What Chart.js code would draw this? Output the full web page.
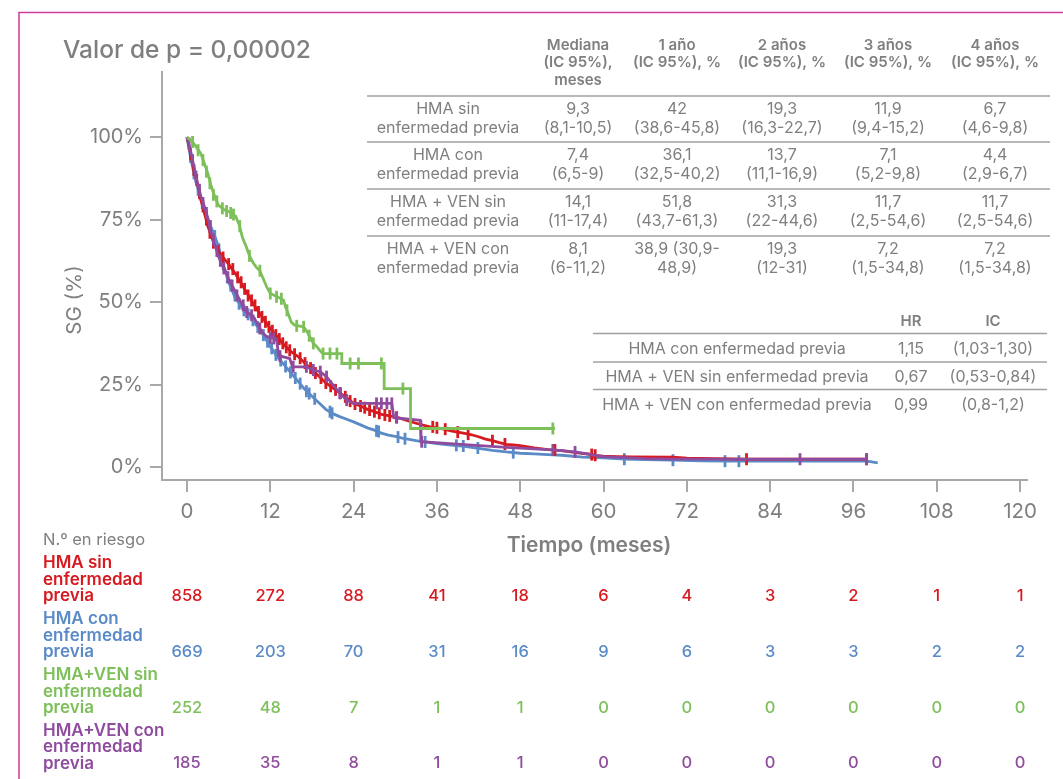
<!DOCTYPE html>
<html><head><meta charset="utf-8">
<script src="https://cdn.jsdelivr.net/npm/chart.js@4"></script>
<style>html,body{margin:0;padding:0;background:#fff}#wrap{position:relative;width:1063px;height:779px}</style>
</head><body><div id="wrap"><canvas id="c" width="1063" height="779"></canvas></div>
<script>
// ---------------- DATA ----------------
const xTicks = [0,12,24,36,48,60,72,84,96,108,120];
const yTicks = [0,25,50,75,100];

// Kaplan-Meier curves [month, survival %]
const curveHMAsin = [[0,100],[0.5,95],[1,90],[1.5,86],[2,81],[2.5,77],[3,73],[3.5,70],[4,67],[5,64],[6,61.5],[7,58.5],[8,55],[9,51.5],[10,48],[11,45],[12,42],[13,39.5],[14,37],[15,35],[16,33.5],[17,31.5],[18,29.5],[19,27.5],[20,25.5],[21,24],[22,22.5],[23,21],[24,19.3],[25,18.5],[26,17.5],[27,16.8],[28,16],[29,15.6],[30,15.2],[31,14.6],[32,13.9],[33,13.3],[34,12.7],[35,12.2],[36,11.9],[37,11.5],[38,11],[39,10.6],[40,10.2],[41,9.8],[42,9.2],[43,8.5],[44,8],[45,7.4],[46,6.9],[47,6.7],[48,6.5],[50,5.8],[52,5.3],[54,5],[56,4.4],[58,3.9],[59,3.5],[60,3.3],[62,3.2],[64,3.1],[70,3],[72,2.7],[76,2.6],[80,2.4],[90,2.4],[98,2.4]];
const curveHMAcon = [[0,100],[0.5,94],[1,89],[1.5,85],[2,81],[2.5,78],[3,75],[3.5,72.5],[4,70],[4.5,67],[5,63],[5.5,59.5],[6,56],[6.5,53.5],[7,51],[7.4,50],[8,48],[9,46],[10,43],[11,40],[12,36.5],[13,33.5],[14,31],[15,28.5],[16,26],[17,23.5],[18,21.5],[19,19.5],[20,17.5],[21,16.2],[22,15.3],[23,14.5],[24,13.7],[25,12.8],[26,11.9],[27,11.2],[28,10.3],[29,9.7],[30,9.3],[31,8.8],[32,8.4],[33,8],[34,7.7],[36,7.1],[38,6.7],[40,6.3],[42,5.7],[44,5.1],[46,4.6],[48,4.2],[50,4],[52,3.8],[54,3.6],[57,3],[60,2.8],[63,2.4],[66,2.3],[70,2.1],[74,1.9],[78,1.8],[90,1.8],[98,1.8],[99.5,1.3]];
const curveVENsin = [[0,100],[0.5,99],[1,98],[1.5,96.5],[2,95],[2.5,92],[3,89],[3.5,85],[4,82],[4.5,79.5],[5,78.5],[5.5,77.8],[6,77.4],[6.5,76.8],[7,76],[7.5,73.5],[8,69.5],[8.5,67],[9,64],[9.5,62],[10,60.5],[10.5,59.5],[11,57],[11.5,54.5],[12,52.6],[13,51.6],[13.9,50.6],[14.2,48.5],[14.5,47],[15,44],[15.5,43],[16.8,42.5],[17.3,41],[17.7,39.5],[18.2,37.5],[18.7,36.5],[19.2,35.2],[19.6,34.4],[22.3,34.4],[22.3,31.4],[28.4,31.4],[28.4,23.8],[32.2,23.8],[32.2,11.7],[53,11.7]];
const curveVENcon = [[0,100],[0.5,96],[1,91],[1.5,86],[2,82],[2.5,79],[3,75.5],[3.5,71],[4,67.5],[4.5,64],[5,61.5],[5.5,59.5],[6,57],[7,53],[8,49],[8.6,47],[9.6,45.5],[10.5,42],[11,40.5],[11.5,39.5],[12.9,38.9],[13.2,33.8],[14.8,32.9],[15.2,30.4],[17.2,30.4],[18.2,29.4],[19.2,28.9],[20.1,27.4],[21,25],[22,22.4],[23,20.3],[24,19.3],[29.5,19.3],[29.8,15],[33.6,14.2],[33.7,7.7],[40,6.8],[46,6],[52.7,5.2],[55.9,4.6],[60,3.2],[66,2.6],[70,2.4],[98,2.4]];

// Censored observations [month, survival %]
const censHMAsin = [[0.5,95],[1,90],[1.4,87],[1.8,83],[2.3,79],[2.8,75],[3.3,71],[3.8,68],[4.5,65.5],[5.2,63.5],[6,61.5],[6.6,60],[7.3,57.5],[7.8,56],[8.3,54],[8.8,52],[9.3,50.5],[9.8,49],[10.3,47],[10.8,45.5],[11.3,44],[11.8,42.5],[12.3,41.3],[12.8,40],[13.3,38.8],[13.8,37.5],[14.3,36.3],[14.8,35.4],[15.5,34.2],[16.3,33],[17,31.5],[17.8,30],[18.5,28.5],[19.3,27],[20,25.5],[20.7,24.5],[21.4,23.4],[22.1,22.4],[22.8,21.3],[23.5,20],[24.2,19.1],[25,18.5],[25.6,18],[26.3,17.3],[27,16.8],[27.7,16.3],[28.5,15.8],[29.2,15.5],[30.2,15.1],[35.4,12.2],[36,11.9],[37.2,11.5],[39,10.6],[40.5,10],[44,8],[45.8,7],[53,5.2],[58.3,3.8],[58.8,3.6],[80.6,2.4],[97.9,2.4]];
const censHMAcon = [[0.5,94],[1,89],[1.6,84],[2.2,80],[2.8,76],[3.4,73],[4,70],[4.6,66],[5.2,61.5],[5.8,57.5],[6.3,55],[6.9,52],[7.5,49.5],[8.2,47.5],[8.8,46.3],[9.5,44.5],[10.2,42.4],[11,40],[11.6,38],[12.2,36],[12.8,34],[13.5,32.3],[14.2,30.5],[14.9,28.7],[15.6,27],[16.3,25.3],[17.2,23],[17.6,22.3],[18.4,20.7],[20.6,16.8],[20.9,16.3],[27.3,11],[27.6,10.8],[30.4,9.1],[31.4,8.6],[34.3,7.6],[38.8,6.6],[39.8,6.4],[41.9,5.8],[47,4.4],[63,2.4],[70,2.1],[77.5,1.8],[79.5,1.8]];
const censVENsin = [[0.8,98.5],[1.6,96],[2.3,93],[2.8,89.5],[3.3,86],[3.8,82.5],[4.3,80.5],[5.1,78.4],[5.7,77.6],[6.3,77],[6.7,76.5],[7.6,73],[9,64],[10.5,59.5],[12,52.6],[12.9,51.6],[13.6,51],[14.4,47.5],[15.8,42.8],[16.8,42.5],[17.6,39.8],[18.2,37.5],[19.6,34.4],[20.6,34.4],[21.6,34.4],[23.5,31.4],[24.7,31.4],[28,31.4],[31.1,23.8],[52.7,11.7]];
const censVENcon = [[0.3,98],[0.8,93],[1.3,88],[1.8,84],[2.3,80],[2.8,77],[3.3,73],[3.8,69],[4.3,65.5],[4.8,62.5],[5.3,60.2],[5.9,57.5],[6.5,55],[7.2,52],[8.1,49],[8.6,47],[9.3,46],[10.5,42],[12,39.2],[12.5,39],[13.4,33.6],[15.3,30.4],[17.2,30.4],[18.2,29.4],[19.2,28.9],[20.1,27.4],[22,22.4],[23,20.3],[27.3,19.3],[28,19.3],[28.8,19.3],[29.5,19.3],[30.2,15],[33.8,7.7],[52.7,5.2],[55.9,4.6],[88.3,2.4],[97.9,2.4]];

// Survival summary table
const survHeaders = [['Mediana','(IC 95%),','meses'],['1 año','(IC 95%), %'],['2 años','(IC 95%), %'],['3 años','(IC 95%), %'],['4 años','(IC 95%), %']];
const survRowLabels = [['HMA sin','enfermedad previa'],['HMA con','enfermedad previa'],['HMA + VEN sin','enfermedad previa'],['HMA + VEN con','enfermedad previa']];
const survMedian = [['9,3','(8,1-10,5)'],['7,4','(6,5-9)'],['14,1','(11-17,4)'],['8,1','(6-11,2)']];
const surv1y = [['42','(38,6-45,8)'],['36,1','(32,5-40,2)'],['51,8','(43,7-61,3)'],['38,9 (30,9-','48,9)']];
const surv2y = [['19,3','(16,3-22,7)'],['13,7','(11,1-16,9)'],['31,3','(22-44,6)'],['19,3','(12-31)']];
const surv3y = [['11,9','(9,4-15,2)'],['7,1','(5,2-9,8)'],['11,7','(2,5-54,6)'],['7,2','(1,5-34,8)']];
const surv4y = [['6,7','(4,6-9,8)'],['4,4','(2,9-6,7)'],['11,7','(2,5-54,6)'],['7,2','(1,5-34,8)']];

// Hazard ratio table
const hrHeaders = ['HR','IC'];
const hrLabels = ['HMA con enfermedad previa','HMA + VEN sin enfermedad previa','HMA + VEN con enfermedad previa'];
const hrValues = ['1,15','0,67','0,99'];
const hrCI = ['(1,03-1,30)','(0,53-0,84)','(0,8-1,2)'];

// Number at risk
const riskTimes = [0,12,24,36,48,60,72,84,96,108,120];
const riskLabels = [['HMA sin','enfermedad','previa'],['HMA con','enfermedad','previa'],['HMA+VEN sin','enfermedad','previa'],['HMA+VEN con','enfermedad','previa']];
const riskHMAsin = [858,272,88,41,18,6,4,3,2,1,1];
const riskHMAcon = [669,203,70,31,16,9,6,3,3,2,2];
const riskVENsin = [252,48,7,1,1,0,0,0,0,0,0];
const riskVENcon = [185,35,8,1,1,0,0,0,0,0,0];

const titleText = 'Valor de p = 0,00002';
const yTitle = 'SG (%)';
const xTitle = 'Tiempo (meses)';
const riskTitle = 'N.º en riesgo';

// ---------------- STYLE ----------------
const RED = '#d71920', BLUE = '#5b8bc7', GREEN = '#7dc05a', PURPLE = '#8f4c9f';
const GRAY = '#7f7f7f', AXIS = '#a8a8a8', MAGENTA = '#cc3d9c';
const FONT = 'Inter, "Open Sans", sans-serif';

const toXY = arr => arr.map(p => ({x: p[0], y: p[1]}));
function lineDs(data, color){
  return {type:'line', data: toXY(data), borderColor: color, backgroundColor: color, borderWidth: 2.8,
    pointRadius: 0, fill: false, tension: 0};
}
function censDs(data, color){
  return {type:'scatter', data: toXY(data), borderColor: color, backgroundColor: color,
    pointStyle: 'line', rotation: 90, pointRadius: 6, borderWidth: 2.8, showLine: false};
}

const overlay = {
  id: 'overlay',
  afterDraw(chart){
    const ctx = chart.ctx;
    const xs = chart.scales.x;
    ctx.save();
    // frame
    ctx.strokeStyle = MAGENTA; ctx.lineWidth = 1.5;
    ctx.beginPath(); ctx.moveTo(19, 779); ctx.lineTo(19, 12.5); ctx.lineTo(1063, 12.5); ctx.stroke();

    ctx.fillStyle = GRAY; ctx.textBaseline = 'middle';
    // title
    ctx.font = '500 24.5px ' + FONT; ctx.textAlign = 'left';
    ctx.fillText(titleText, 63, 51);
    // axis titles
    ctx.font = '600 21px ' + FONT; ctx.textAlign = 'center';
    ctx.fillText(xTitle, 589, 546);
    ctx.save(); ctx.translate(75, 300); ctx.rotate(-Math.PI/2);
    ctx.font = '400 20.5px ' + FONT; ctx.fillText(yTitle, 0, 0); ctx.restore();

    // survival table
    const colX = [578, 677, 782, 888, 995];
    const labelX = 448;
    const colData = [survMedian, surv1y, surv2y, surv3y, surv4y];
    ctx.font = '600 15px ' + FONT;
    survHeaders.forEach((h, i) => h.forEach((t, j) => ctx.fillText(t, colX[i], 45 + j*17.5)));
    ctx.font = '400 16px ' + FONT;
    const rowY = [109, 155.5, 202, 249];
    survRowLabels.forEach((lab, r) => {
      lab.forEach((t, j) => ctx.fillText(t, labelX, rowY[r] + j*19));
      colData.forEach((col, c) => col[r].forEach((t, j) => ctx.fillText(t, colX[c], rowY[r] + j*19)));
    });
    ctx.strokeStyle = '#a0a0a0'; ctx.lineWidth = 1.5;
    [96, 142, 189, 236].forEach(y => { ctx.beginPath(); ctx.moveTo(367, y); ctx.lineTo(1050, y); ctx.stroke(); });

    // HR table
    ctx.font = '600 15px ' + FONT;
    ctx.fillText(hrHeaders[0], 911, 321); ctx.fillText(hrHeaders[1], 993, 321);
    ctx.font = '400 16px ' + FONT;
    const hrY = [349, 377, 405];
    hrLabels.forEach((t, i) => {
      ctx.fillText(t, 737, hrY[i]); ctx.fillText(hrValues[i], 911, hrY[i]); ctx.fillText(hrCI[i], 993, hrY[i]);
    });
    [333.5, 362, 389.5].forEach(y => { ctx.beginPath(); ctx.moveTo(593, y); ctx.lineTo(1047, y); ctx.stroke(); });

    // risk table
    ctx.textAlign = 'left'; ctx.font = '400 16.5px ' + FONT; ctx.fillStyle = GRAY;
    ctx.fillText(riskTitle, 43, 540);
    const riskRows = [riskHMAsin, riskHMAcon, riskVENsin, riskVENcon];
    const riskColors = [RED, BLUE, GREEN, PURPLE];
    const riskY = [596, 652, 708, 763.5];
    riskRows.forEach((row, r) => {
      ctx.fillStyle = riskColors[r];
      ctx.textAlign = 'left'; ctx.font = '600 17px ' + FONT;
      riskLabels[r].forEach((t, j) => ctx.fillText(t, 43, riskY[r] - (2 - j)*16.5));
      ctx.textAlign = 'center'; ctx.font = '500 16.5px ' + FONT;
      row.forEach((v, i) => ctx.fillText(String(v), xs.getPixelForValue(riskTimes[i]), riskY[r]));
    });
    ctx.restore();
  }
};

new Chart(document.getElementById('c'), {
  data: {
    datasets: [
      censDs(censVENsin, GREEN), lineDs(curveVENsin, GREEN),
      censDs(censVENcon, PURPLE), lineDs(curveVENcon, PURPLE),
      censDs(censHMAsin, RED), lineDs(curveHMAsin, RED),
      censDs(censHMAcon, BLUE), lineDs(curveHMAcon, BLUE)
    ]
  },
  options: {
    responsive: false, devicePixelRatio: 1, animation: false,
    layout: {padding: {left: 0, right: 36, top: 72, bottom: 0}},
    plugins: {legend: {display: false}, tooltip: {enabled: false}},
    scales: {
      x: {
        type: 'linear', min: -3.6, max: 121,
        afterBuildTicks: ax => { ax.ticks = xTicks.map(v => ({value: v})); },
        afterFit: ax => { ax.height = 299; },
        ticks: {color: GRAY, font: {family: FONT, size: 20.5}, padding: 8, autoSkip: false, maxRotation: 0},
        grid: {drawOnChartArea: false, drawTicks: true, tickLength: 12, color: AXIS, lineWidth: 2},
        border: {display: true, color: AXIS, width: 2}
      },
      y: {
        type: 'linear', min: -3.9, max: 119.7,
        afterBuildTicks: ax => { ax.ticks = yTicks.map(v => ({value: v})); },
        afterFit: ax => { ax.width = 162; },
        ticks: {color: GRAY, font: {family: FONT, size: 20}, padding: 7, callback: v => v + '%'},
        grid: {drawOnChartArea: false, drawTicks: true, tickLength: 12, color: AXIS, lineWidth: 2},
        border: {display: true, color: AXIS, width: 2}
      }
    }
  },
  plugins: [overlay]
});
</script></body></html>
